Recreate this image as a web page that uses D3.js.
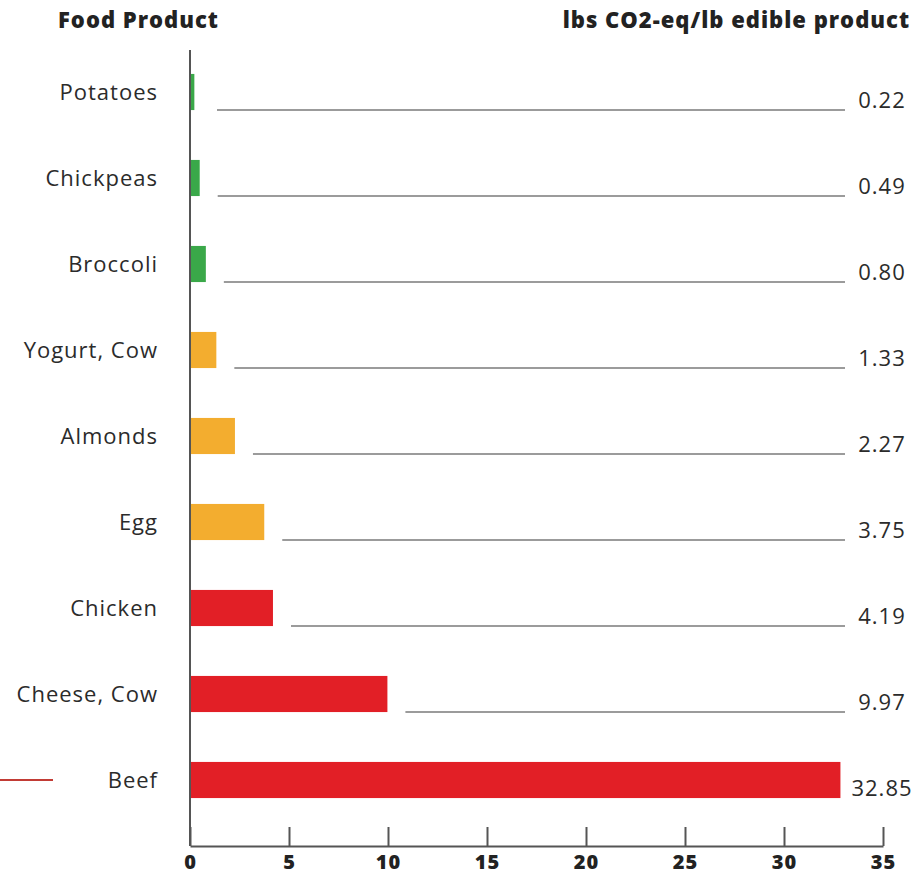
<!DOCTYPE html>
<html>
<head>
<meta charset="utf-8">
<script src="https://cdn.jsdelivr.net/npm/d3@7"></script>
<style>
  body { margin: 0; background: #fff; }
  text { font-family: "Open Sans", sans-serif; letter-spacing: 1px; }
</style>
</head>
<body id="body">
<script>
const foods = ["Potatoes", "Chickpeas", "Broccoli", "Yogurt, Cow", "Almonds", "Egg", "Chicken", "Cheese, Cow", "Beef"];
const emissions = [0.22, 0.49, 0.80, 1.33, 2.27, 3.75, 4.19, 9.97, 32.85];
const valueLabels = ["0.22", "0.49", "0.80", "1.33", "2.27", "3.75", "4.19", "9.97", "32.85"];
const impact = ["low", "low", "low", "mid", "mid", "mid", "high", "high", "high"];
const xTicks = [0, 5, 10, 15, 20, 25, 30, 35];

const width = 916, height = 877;

const svg = d3.select("body")
  .append("svg")
  .attr("width", width)
  .attr("height", height);

let x = d3.scaleLinear().domain([0, 35]).range([190, 883]);
let y = d3.scaleBand().domain(foods).range([49, 823]).paddingInner(0.58).paddingOuter(0.29);

let color = d3.scaleOrdinal()
  .domain(["low", "mid", "high"])
  .range(["#3aa849", "#f3ad2f", "#e21f26"]);

const rows = foods.map((f, i) => ({ food: f, value: emissions[i], label: valueLabels[i], level: impact[i] }));

// headers
svg.append("text")
  .attr("x", 58).attr("y", 28)
  .attr("font-size", 22).attr("font-weight", 800).attr("fill", "#222")
  .text("Food Product");

svg.append("text")
  .attr("x", 910).attr("y", 28)
  .attr("text-anchor", "end")
  .attr("font-size", 22).attr("font-weight", 800).attr("fill", "#222")
  .attr("letter-spacing", "0.75px")
  .text("lbs CO2-eq/lb edible product");

// leader lines
svg.append("g")
  .selectAll("line")
  .data(rows.filter(d => d.food !== "Beef"))
  .join("line")
  .attr("x1", d => Math.max(x(0) + 27, x(d.value) + 18))
  .attr("x2", 845)
  .attr("y1", d => y(d.food) + y.bandwidth())
  .attr("y2", d => y(d.food) + y.bandwidth())
  .attr("stroke", "#7a7a7a")
  .attr("stroke-width", 1.5);

// bars
svg.append("g")
  .selectAll("rect")
  .data(rows)
  .join("rect")
  .attr("x", x(0))
  .attr("y", d => y(d.food))
  .attr("width", d => x(d.value) - x(0))
  .attr("height", y.bandwidth())
  .attr("fill", d => color(d.level));

// category labels
svg.append("g")
  .selectAll("text")
  .data(rows)
  .join("text")
  .attr("x", 158)
  .attr("y", d => y(d.food) + y.bandwidth() / 2)
  .attr("dy", "0.36em")
  .attr("text-anchor", "end")
  .attr("font-size", 22)
  .attr("fill", "#2b2b2b")
  .text(d => d.food);

// value labels
svg.append("g")
  .selectAll("text")
  .data(rows)
  .join("text")
  .attr("x", 882)
  .attr("y", d => y(d.food) + y.bandwidth() - 2)
  .attr("text-anchor", "middle")
  .attr("font-size", 22)
  .attr("fill", "#2b2b2b")
  .text(d => d.label);

// y axis line
svg.append("line")
  .attr("x1", x(0)).attr("x2", x(0))
  .attr("y1", 50).attr("y2", 846)
  .attr("stroke", "#555").attr("stroke-width", 2);

// x axis, ticks pointing up
const xAxis = svg.append("g")
  .attr("transform", "translate(0,846)")
  .call(d3.axisBottom(x).tickValues(xTicks).tickSize(-19).tickSizeOuter(0).tickPadding(9));

xAxis.select(".domain").attr("stroke", "#555").attr("stroke-width", 2);
xAxis.selectAll(".tick line").attr("stroke", "#555").attr("stroke-width", 2);
xAxis.selectAll(".tick text")
  .attr("font-family", "'Open Sans', sans-serif")
  .attr("font-size", 20)
  .attr("font-weight", 800)
  .attr("fill", "#222");

// red accent at the left of the beef row
svg.append("line")
  .attr("x1", 0).attr("x2", 53)
  .attr("y1", y("Beef") + y.bandwidth() / 2).attr("y2", y("Beef") + y.bandwidth() / 2)
  .attr("stroke", "#c23b35").attr("stroke-width", 2);
</script>
</body>
</html>
